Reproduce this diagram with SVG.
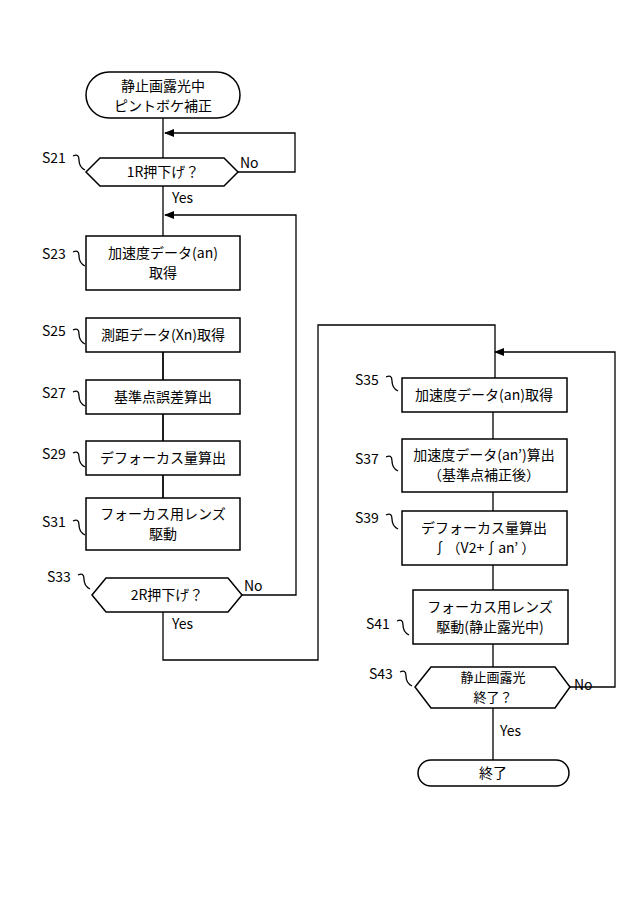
<svg xmlns="http://www.w3.org/2000/svg" width="640" height="915" viewBox="0 0 640 915">
<style>
.s{fill:#fff;stroke:#000;stroke-width:1.5}
.c{fill:none;stroke:#000;stroke-width:1.3}
text{font-family:"Noto Sans CJK JP","Liberation Sans",sans-serif;font-size:14px;fill:#000}
.m{text-anchor:middle}
.t{font-size:13px}
</style>
<defs><marker id="a" markerWidth="10" markerHeight="8" refX="9" refY="4" orient="auto" markerUnits="userSpaceOnUse"><path d="M0,0L10,4L0,8z"/></marker></defs>
<rect width="640" height="915" fill="#fff"/>
<g id="connectors">
<path class="c" d="M163,118V290M163,318V550M163,578V660H318V325H495V378M493,412V439M493,492V511M493,565V590M493,644V760"/>
<path class="c" d="M238,172H295V133H165" marker-end="url(#a)"/>
<path class="c" d="M242,595H296V215H165" marker-end="url(#a)"/>
<path class="c" d="M570,687H615V352H495" marker-end="url(#a)"/>
<path class="c" d="M163,352V380M163,414V441M163,475V498"/>
</g>
<g id="start"><rect class="s" x="86" y="72" width="154" height="46" rx="23"/><text class="m" x="163" y="91">静止画露光中</text><text class="m" x="163" y="111">ピントボケ補正</text></g>
<g id="S21"><path class="s" d="M86,172L100,158H224L238,172L224,186H100Z"/><text class="m" x="163" y="177">1R押下げ？</text><text x="240" y="168">No</text><text x="172" y="203">Yes</text><text x="42" y="163">S21</text><path class="c" d="M73,156q6,-3 6,4q0,7 6,10"/></g>
<g id="S23"><rect class="s" x="86" y="236" width="154" height="54"/><text class="m" x="163" y="258">加速度データ(an)</text><text class="m" x="163" y="278">取得</text><text x="42" y="259">S23</text><path class="c" d="M73,252q6,-3 6,4q0,7 6,10"/></g>
<g id="S25"><rect class="s" x="86" y="318" width="154" height="34"/><text class="m" x="163" y="340">測距データ(Xn)取得</text><text x="42" y="336">S25</text><path class="c" d="M73,330q6,-3 6,4q0,7 6,10"/></g>
<g id="S27"><rect class="s" x="86" y="380" width="154" height="34"/><text class="m" x="163" y="402">基準点誤差算出</text><text x="42" y="398">S27</text><path class="c" d="M73,392q6,-3 6,4q0,7 6,10"/></g>
<g id="S29"><rect class="s" x="86" y="441" width="154" height="34"/><text class="m" x="163" y="463">デフォーカス量算出</text><text x="42" y="459">S29</text><path class="c" d="M73,453q6,-3 6,4q0,7 6,10"/></g>
<g id="S31"><rect class="s" x="86" y="498" width="154" height="52"/><text class="m" x="163" y="519">フォーカス用レンズ</text><text class="m" x="163" y="539">駆動</text><text x="42" y="527">S31</text><path class="c" d="M73,521q6,-3 6,4q0,7 6,10"/></g>
<g id="S33"><path class="s" d="M92,595L106,578H228L242,595L228,612H106Z"/><text class="m" x="167" y="600">2R押下げ？</text><text x="244" y="591">No</text><text x="172" y="629">Yes</text><text x="47" y="582">S33</text><path class="c" d="M78,575q6,-3 6,4q0,7 6,10"/></g>
<g id="S35"><rect class="s" x="402" y="378" width="165" height="34"/><text class="m" x="484" y="400">加速度データ(an)取得</text><text x="355" y="385">S35</text><path class="c" d="M386,377q6,-3 6,4q0,7 6,10"/></g>
<g id="S37"><rect class="s" x="402" y="439" width="165" height="53"/><text class="m" x="484" y="460">加速度データ(an’)算出</text><text class="m" x="484" y="480">（基準点補正後）</text><text x="355" y="464">S37</text><path class="c" d="M386,457q6,-3 6,4q0,7 6,10"/></g>
<g id="S39"><rect class="s" x="402" y="511" width="165" height="54"/><text class="m" x="484" y="533">デフォーカス量算出</text><text class="m" x="484" y="553">∫（V2+∫an’ ）</text><text x="355" y="523">S39</text><path class="c" d="M386,515q6,-3 6,4q0,7 6,10"/></g>
<g id="S41"><rect class="s" x="413" y="590" width="155" height="54"/><text class="m" x="490" y="612">フォーカス用レンズ</text><text class="m" x="490" y="632">駆動(静止露光中)</text><text x="366" y="629">S41</text><path class="c" d="M397,621q6,-3 6,4q0,7 6,10"/></g>
<g id="S43"><path class="s" d="M415,687L431,667H555L570,687L555,708H431Z"/><text class="m t" x="493" y="682">静止画露光</text><text class="m t" x="493" y="702">終了？</text><text x="574" y="690">No</text><text x="500" y="736">Yes</text><text x="369" y="679">S43</text><path class="c" d="M400,672q6,-3 6,4q0,7 6,10"/></g>
<g id="end"><rect class="s" x="418" y="760" width="151" height="26" rx="13"/><text class="m" x="493" y="778">終了</text></g>
</svg>
